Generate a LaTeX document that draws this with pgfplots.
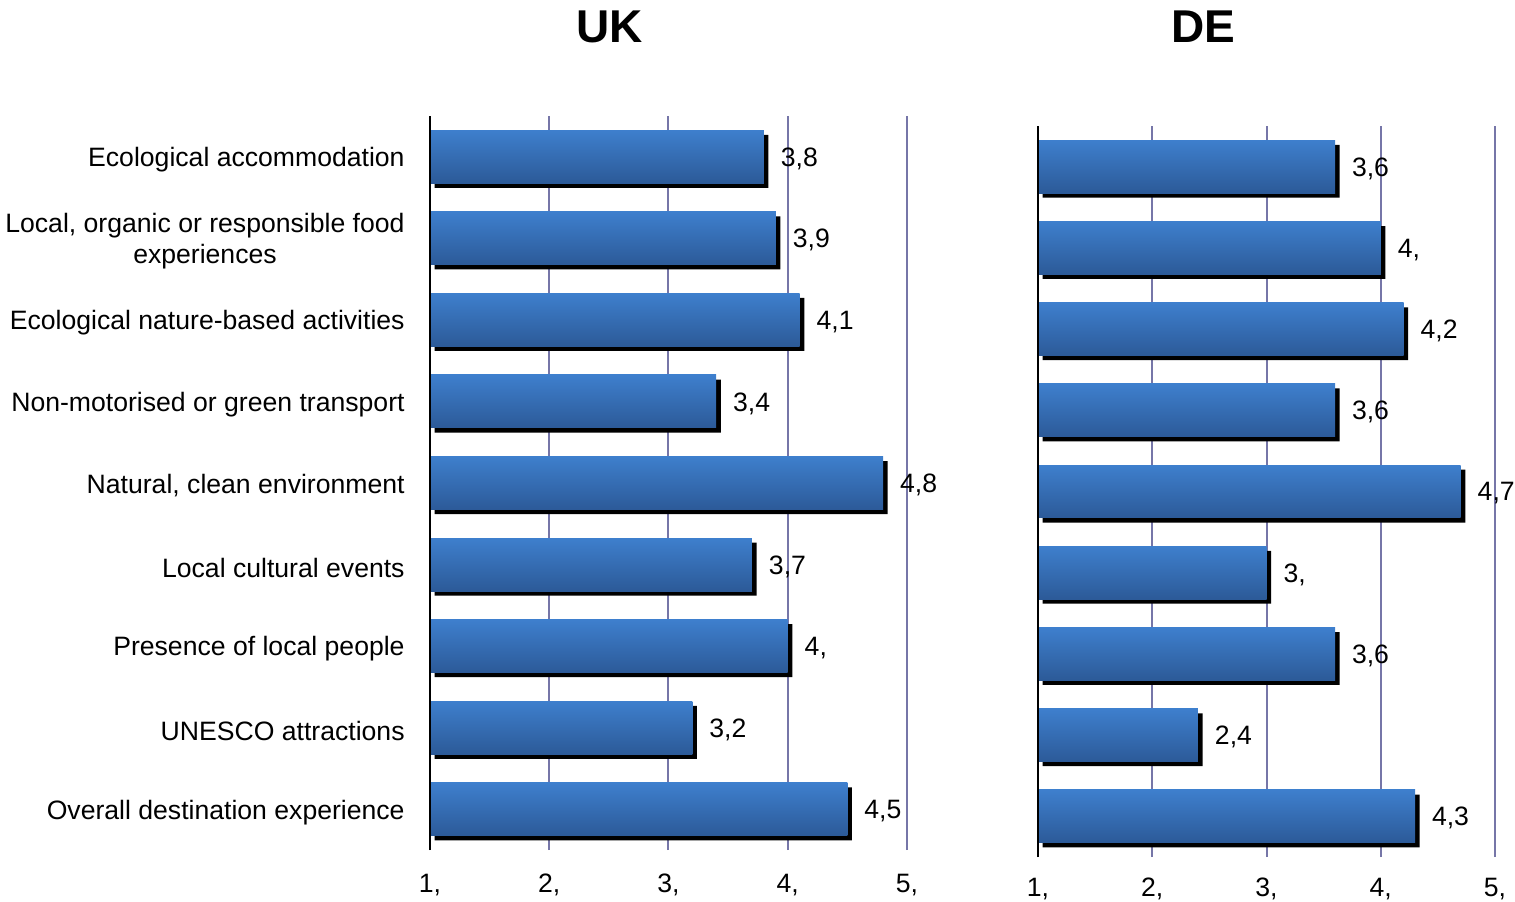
\documentclass[border=0pt]{standalone}
\usepackage{fontspec}
\setmainfont{Liberation Sans}
\usepackage{pgfplots}
\usepackage{pgfplotstable}
\pgfplotsset{compat=1.18}

\definecolor{barTop}{RGB}{62,127,205}
\definecolor{barBot}{RGB}{44,90,152}
\definecolor{gridc}{RGB}{118,118,168}

% y = position from bottom (9 = top category)
\pgfplotstableread{
y x lab
9 3.8 3,8
8 3.9 3,9
7 4.1 4,1
6 3.4 3,4
5 4.8 4,8
4 3.7 3,7
3 4.0 4,
2 3.2 3,2
1 4.5 4,5
}\ukdata

\pgfplotstableread{
y x lab
9 3.6 3,6
8 4.0 4,
7 4.2 4,2
6 3.6 3,6
5 4.7 4,7
4 3.0 3,
3 3.6 3,6
2 2.4 2,4
1 4.3 4,3
}\dedata

\pgfplotsset{
  mybase/.style={
    scale only axis, anchor=south west,
    xmin=0, xmax=4, ymin=0.5, ymax=9.5,
    axis line style={draw=none},
    xtick={0,1,2,3,4}, xticklabels={{1,},{2,},{3,},{4,},{5,}},
    ytick={1,...,9},
    major tick length=0pt,
    xmajorgrids, grid style={gridc, line width=1pt},
    xticklabel style={inner sep=0pt, font=\fontsize{13.3}{15}\selectfont},
    yticklabel style={inner sep=0pt, xshift=-12.5pt, yshift=-1.5pt, align=center, font=\fontsize{13.3}{15.5}\selectfont},
    clip=false,
    xbar, bar width=0.65,
  },
  shadowbar/.style={fill=black, draw=none, bar shift=0pt, xshift=2.3pt, yshift=-2.3pt},
  bluebar/.style={draw=none, bar shift=0pt, top color=barTop, bottom color=barBot,
    nodes near coords, point meta=explicit symbolic,
    every node near coord/.append style={font=\fontsize{13.3}{15}\selectfont, text=black, inner sep=0pt, anchor=west, xshift=8.3pt, yshift=-1pt}},
}

\begin{document}
\begin{tikzpicture}
\useasboundingbox (0,0) rectangle (757.5pt,450.5pt);

\node[font=\bfseries\fontsize{23}{27}\selectfont] at (305pt,437pt) {UK};
\node[font=\bfseries\fontsize{23}{27}\selectfont] at (601.5pt,437pt) {DE};

\begin{axis}[mybase,
  at={(215pt,25.5pt)}, width=238.5pt, height=367pt,
  xticklabel style={yshift=-11.8pt},
  yticklabels={Overall destination experience, UNESCO attractions, Presence of local people, Local cultural events, {Natural, clean environment}, Non-motorised or green transport, Ecological nature-based activities, {Local, organic or responsible food\\experiences}, Ecological accommodation},
]
\addplot[shadowbar] table[x expr=\thisrow{x}-1, y=y] {\ukdata};
\pgfplotsinvokeforeach{0,...,8}{
  \addplot[bluebar, restrict expr to domain={\coordindex}{#1:#1}] table[x expr=\thisrow{x}-1, y=y, meta=lab] {\ukdata};
}
\draw[black, line width=1pt] (rel axis cs:0,0) -- (rel axis cs:0,1);
\end{axis}

\begin{axis}[mybase,
  at={(519pt,22pt)}, width=228.5pt, height=365.5pt,
  xticklabel style={yshift=-10.5pt},
  yticklabels={},
]
\addplot[shadowbar] table[x expr=\thisrow{x}-1, y=y] {\dedata};
\pgfplotsinvokeforeach{0,...,8}{
  \addplot[bluebar, restrict expr to domain={\coordindex}{#1:#1}] table[x expr=\thisrow{x}-1, y=y, meta=lab] {\dedata};
}
\draw[black, line width=1pt] (rel axis cs:0,0) -- (rel axis cs:0,1);
\end{axis}
\end{tikzpicture}
\end{document}
